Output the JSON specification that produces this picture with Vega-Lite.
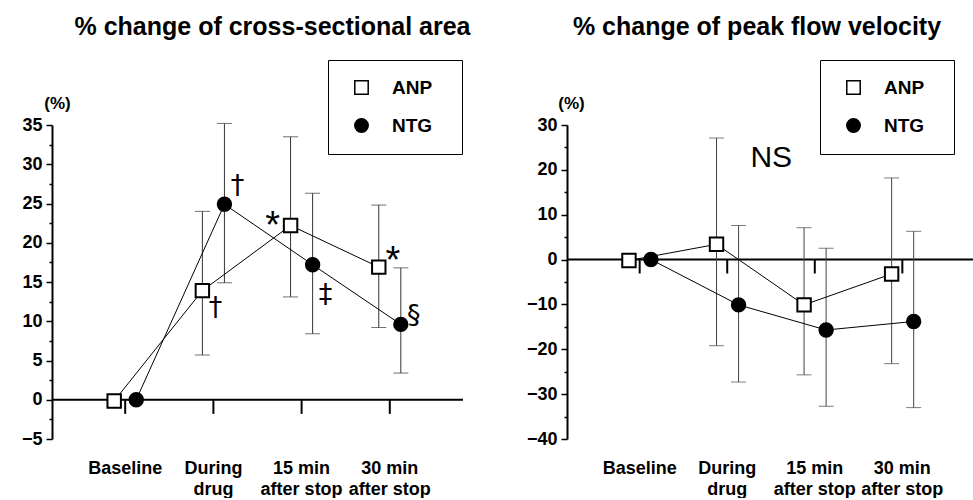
{
  "$schema": "https://vega.github.io/schema/vega-lite/v6.json",
  "padding": {"left": 21, "top": 14, "right": 0, "bottom": 0},
  "spacing": 55,
  "background": "white",
  "resolve": {"scale": {"shape": "independent", "fill": "independent"}, "legend": {"shape": "independent", "fill": "independent"}},
  "config": {
    "view": {"stroke": null},
    "axis": {"grid": false, "labelOverlap": false},
    "font": "Liberation Sans"
  },
  "datasets": {
    "cats": [
      {"time": "Baseline"}, {"time": "During drug"}, {"time": "15 min after stop"}, {"time": "30 min after stop"}
    ],
    "csa": [
      {"time": "Baseline", "series": "ANP", "mean": -0.15, "lo": null, "hi": null},
      {"time": "During drug", "series": "ANP", "mean": 13.9, "lo": 5.7, "hi": 24.0},
      {"time": "15 min after stop", "series": "ANP", "mean": 22.2, "lo": 13.1, "hi": 33.5},
      {"time": "30 min after stop", "series": "ANP", "mean": 16.9, "lo": 9.2, "hi": 24.8},
      {"time": "Baseline", "series": "NTG", "mean": 0, "lo": null, "hi": null},
      {"time": "During drug", "series": "NTG", "mean": 24.9, "lo": 14.9, "hi": 35.2},
      {"time": "15 min after stop", "series": "NTG", "mean": 17.2, "lo": 8.4, "hi": 26.3},
      {"time": "30 min after stop", "series": "NTG", "mean": 9.6, "lo": 3.4, "hi": 16.8}
    ],
    "pfv": [
      {"time": "Baseline", "series": "ANP", "mean": -0.2, "lo": null, "hi": null},
      {"time": "During drug", "series": "ANP", "mean": 3.4, "lo": -19.2, "hi": 27.1},
      {"time": "15 min after stop", "series": "ANP", "mean": -10.1, "lo": -25.7, "hi": 7.1},
      {"time": "30 min after stop", "series": "ANP", "mean": -3.2, "lo": -23.2, "hi": 18.2},
      {"time": "Baseline", "series": "NTG", "mean": 0, "lo": null, "hi": null},
      {"time": "During drug", "series": "NTG", "mean": -10.1, "lo": -27.3, "hi": 7.6},
      {"time": "15 min after stop", "series": "NTG", "mean": -15.7, "lo": -32.7, "hi": 2.5},
      {"time": "30 min after stop", "series": "NTG", "mean": -13.8, "lo": -33.0, "hi": 6.3}
    ],
    "annR": [
      {"time": "During drug", "series": "NTG", "y": 27.2, "label": "†"},
      {"time": "During drug", "series": "ANP", "y": 11.7, "label": "†"},
      {"time": "15 min after stop", "series": "NTG", "y": 13.4, "label": "‡"},
      {"time": "30 min after stop", "series": "NTG", "y": 10.7, "label": "§"}
    ],
    "starR": [
      {"time": "30 min after stop", "series": "ANP", "y": 17.6, "label": "*"}
    ],
    "starL": [
      {"time": "15 min after stop", "series": "ANP", "y": 22.0, "label": "*"}
    ],
    "ns": [
      {"time": "During drug", "y": 22.6, "label": "NS"}
    ]
  },
  "hconcat": [
    {
      "width": 411,
      "height": 314,
      "title": {"text": "% change of cross-sectional area", "font": "Liberation Sans", "fontSize": 25, "fontWeight": "bold", "color": "black", "anchor": "middle", "frame": "group", "dx": 15, "offset": 20},
      "layer": [
        {
          "data": {"values": [{}]},
          "mark": {"type": "rule", "strokeWidth": 2, "color": "black"},
          "encoding": {"y": {"datum": 0, "type": "quantitative", "scale": {"domain": [-5, 35], "nice": false, "zero": false},
            "axis": {"values": [-5, -2.5, 0, 2.5, 5, 7.5, 10, 12.5, 15, 17.5, 20, 22.5, 25, 27.5, 30, 32.5, 35], "tickCount": 100, "format": "d",
              "labelExpr": "datum.value % 5 === 0 ? datum.label : ''", "labelOverlap": false,
              "tickSize": {"condition": {"test": "datum.value % 5 === 0", "value": 6}, "value": 3},
              "tickColor": "black", "tickWidth": 1.5, "domainColor": "black", "domainWidth": 2,
              "labelFont": "Liberation Sans", "labelFontWeight": "bold", "labelFontSize": 18, "labelColor": "black", "labelPadding": 4,
              "title": "(%)", "titleAngle": 0, "titleX": 5, "titleY": -22, "titleAlign": "center", "titleBaseline": "middle",
              "titleFont": "Liberation Sans", "titleFontWeight": "bold", "titleFontSize": 17, "titleColor": "black"}}}
        },
        {
          "data": {"name": "cats"},
          "mark": {"type": "rule", "strokeWidth": 2, "color": "black"},
          "encoding": {
            "x": {"field": "time", "type": "nominal", "scale": {"type": "band", "domain": ["Baseline", "During drug", "15 min after stop", "30 min after stop"], "paddingInner": 0, "paddingOuter": 0.33},
              "axis": {"domain": false, "ticks": false, "title": null, "labelAngle": 0, "labelFont": "Liberation Sans", "labelFontWeight": "bold", "labelFontSize": 18, "labelColor": "black", "labelPadding": 20, "labelLineHeight": 21,
                "labelExpr": "datum.value == 'During drug' ? ['During', 'drug'] : datum.value == '15 min after stop' ? ['15 min', 'after stop'] : datum.value == '30 min after stop' ? ['30 min', 'after stop'] : datum.value"}},
            "y": {"datum": 0, "type": "quantitative"},
            "y2": {"datum": -1.8}
          }
        },
        {
          "data": {"name": "csa"},
          "transform": [{"filter": "datum.lo != null"}],
          "mark": {"type": "rule", "strokeWidth": 1, "color": "#333333"},
          "encoding": {
            "x": {"field": "time", "type": "nominal"},
            "xOffset": {"field": "series", "type": "nominal", "scale": {"domain": ["ANP", "NTG"], "paddingInner": 0, "paddingOuter": 1.3}},
            "y": {"field": "lo", "type": "quantitative"},
            "y2": {"field": "hi"}
          }
        },
        {
          "data": {"name": "csa"},
          "transform": [{"filter": "datum.lo != null"}],
          "mark": {"type": "tick", "thickness": 1, "size": 15, "color": "#333333"},
          "encoding": {
            "x": {"field": "time", "type": "nominal"},
            "xOffset": {"field": "series", "type": "nominal"},
            "y": {"field": "lo", "type": "quantitative"}
          }
        },
        {
          "data": {"name": "csa"},
          "transform": [{"filter": "datum.lo != null"}],
          "mark": {"type": "tick", "thickness": 1, "size": 15, "color": "#333333"},
          "encoding": {
            "x": {"field": "time", "type": "nominal"},
            "xOffset": {"field": "series", "type": "nominal"},
            "y": {"field": "hi", "type": "quantitative"}
          }
        },
        {
          "data": {"name": "csa"},
          "mark": {"type": "line", "strokeWidth": 1, "color": "black"},
          "encoding": {
            "x": {"field": "time", "type": "nominal"},
            "xOffset": {"field": "series", "type": "nominal"},
            "y": {"field": "mean", "type": "quantitative"},
            "detail": {"field": "series"},
            "order": {"value": null}
          }
        },
        {
          "data": {"name": "csa"},
          "mark": {"type": "point", "filled": true, "stroke": "black", "strokeWidth": 2, "size": 180, "opacity": 1},
          "encoding": {
            "x": {"field": "time", "type": "nominal"},
            "xOffset": {"field": "series", "type": "nominal"},
            "y": {"field": "mean", "type": "quantitative"},
            "shape": {"field": "series", "type": "nominal", "scale": {"domain": ["ANP", "NTG"], "range": ["square", "circle"]},
              "legend": {"orient": "none", "legendX": 276, "legendY": -65, "title": " ", "titleOrient": "right", "titlePadding": 12, "padding": 18, "strokeColor": "black", "fillColor": "white",
                "labelFont": "Liberation Sans", "labelFontWeight": "bold", "labelFontSize": 19, "labelColor": "black", "labelOffset": 21, "symbolOffset": 6,
                "symbolSize": 180, "rowPadding": 17,
                "encode": {"legend": {"update": {"strokeWidth": {"value": 2}}}, "symbols": {"update": {"stroke": {"value": "black"}, "strokeWidth": {"value": 2}}}}}},
            "fill": {"field": "series", "type": "nominal", "scale": {"domain": ["ANP", "NTG"], "range": ["white", "black"]},
              "legend": {"orient": "none", "legendX": 276, "legendY": -65, "title": " ", "titleOrient": "right", "titlePadding": 12, "padding": 18, "strokeColor": "black", "fillColor": "white",
                "labelFont": "Liberation Sans", "labelFontWeight": "bold", "labelFontSize": 19, "labelColor": "black", "labelOffset": 21, "symbolOffset": 6,
                "symbolSize": 180, "rowPadding": 17,
                "encode": {"legend": {"update": {"strokeWidth": {"value": 2}}}, "symbols": {"update": {"stroke": {"value": "black"}, "strokeWidth": {"value": 2}}}}}}
          }
        },
        {
          "data": {"name": "annR"},
          "mark": {"type": "text", "font": "DejaVu Sans", "fontSize": 27, "color": "black", "align": "center", "baseline": "middle", "dx": 13},
          "encoding": {
            "x": {"field": "time", "type": "nominal"},
            "xOffset": {"field": "series", "type": "nominal"},
            "y": {"field": "y", "type": "quantitative"},
            "text": {"field": "label"}
          }
        },
        {
          "data": {"name": "starR"},
          "mark": {"type": "text", "font": "Liberation Sans", "fontSize": 38, "color": "black", "align": "center", "baseline": "middle", "dx": 14},
          "encoding": {
            "x": {"field": "time", "type": "nominal"},
            "xOffset": {"field": "series", "type": "nominal"},
            "y": {"field": "y", "type": "quantitative"},
            "text": {"field": "label"}
          }
        },
        {
          "data": {"name": "starL"},
          "mark": {"type": "text", "font": "Liberation Sans", "fontSize": 38, "color": "black", "align": "center", "baseline": "middle", "dx": -18},
          "encoding": {
            "x": {"field": "time", "type": "nominal"},
            "xOffset": {"field": "series", "type": "nominal"},
            "y": {"field": "y", "type": "quantitative"},
            "text": {"field": "label"}
          }
        }
      ]
    },
    {
      "width": 408,
      "height": 314,
      "title": {"text": "% change of peak flow velocity", "font": "Liberation Sans", "fontSize": 25, "fontWeight": "bold", "color": "black", "anchor": "middle", "frame": "group", "dx": -14, "offset": 20},
      "layer": [
        {
          "data": {"values": [{}]},
          "mark": {"type": "rule", "strokeWidth": 2, "color": "black"},
          "encoding": {"y": {"datum": 0, "type": "quantitative", "scale": {"domain": [-40, 30], "nice": false, "zero": false},
            "axis": {"values": [-40, -35, -30, -25, -20, -15, -10, -5, 0, 5, 10, 15, 20, 25, 30], "tickCount": 100, "format": "d",
              "labelExpr": "datum.value % 10 === 0 ? datum.label : ''", "labelOverlap": false,
              "tickSize": {"condition": {"test": "datum.value % 10 === 0", "value": 6}, "value": 3},
              "tickColor": "black", "tickWidth": 1.5, "domainColor": "black", "domainWidth": 2,
              "labelFont": "Liberation Sans", "labelFontWeight": "bold", "labelFontSize": 18, "labelColor": "black", "labelPadding": 4,
              "title": "(%)", "titleAngle": 0, "titleX": 4, "titleY": -22, "titleAlign": "center", "titleBaseline": "middle",
              "titleFont": "Liberation Sans", "titleFontWeight": "bold", "titleFontSize": 17, "titleColor": "black"}}}
        },
        {
          "data": {"name": "cats"},
          "mark": {"type": "rule", "strokeWidth": 2, "color": "black"},
          "encoding": {
            "x": {"field": "time", "type": "nominal", "scale": {"type": "band", "domain": ["Baseline", "During drug", "15 min after stop", "30 min after stop"], "paddingInner": 0, "paddingOuter": 0.33},
              "axis": {"domain": false, "ticks": false, "title": null, "labelAngle": 0, "labelFont": "Liberation Sans", "labelFontWeight": "bold", "labelFontSize": 18, "labelColor": "black", "labelPadding": 20, "labelLineHeight": 21,
                "labelExpr": "datum.value == 'During drug' ? ['During', 'drug'] : datum.value == '15 min after stop' ? ['15 min', 'after stop'] : datum.value == '30 min after stop' ? ['30 min', 'after stop'] : datum.value"}},
            "y": {"datum": 0, "type": "quantitative"},
            "y2": {"datum": -3.1}
          }
        },
        {
          "data": {"name": "pfv"},
          "transform": [{"filter": "datum.lo != null"}],
          "mark": {"type": "rule", "strokeWidth": 1, "color": "#444444"},
          "encoding": {
            "x": {"field": "time", "type": "nominal"},
            "xOffset": {"field": "series", "type": "nominal", "scale": {"domain": ["ANP", "NTG"], "paddingInner": 0, "paddingOuter": 1.3}},
            "y": {"field": "lo", "type": "quantitative"},
            "y2": {"field": "hi"}
          }
        },
        {
          "data": {"name": "pfv"},
          "transform": [{"filter": "datum.lo != null"}],
          "mark": {"type": "tick", "thickness": 1, "size": 15, "color": "#444444"},
          "encoding": {
            "x": {"field": "time", "type": "nominal"},
            "xOffset": {"field": "series", "type": "nominal"},
            "y": {"field": "lo", "type": "quantitative"}
          }
        },
        {
          "data": {"name": "pfv"},
          "transform": [{"filter": "datum.lo != null"}],
          "mark": {"type": "tick", "thickness": 1, "size": 15, "color": "#444444"},
          "encoding": {
            "x": {"field": "time", "type": "nominal"},
            "xOffset": {"field": "series", "type": "nominal"},
            "y": {"field": "hi", "type": "quantitative"}
          }
        },
        {
          "data": {"name": "pfv"},
          "mark": {"type": "line", "strokeWidth": 1, "color": "black"},
          "encoding": {
            "x": {"field": "time", "type": "nominal"},
            "xOffset": {"field": "series", "type": "nominal"},
            "y": {"field": "mean", "type": "quantitative"},
            "detail": {"field": "series"},
            "order": {"value": null}
          }
        },
        {
          "data": {"name": "pfv"},
          "mark": {"type": "point", "filled": true, "stroke": "black", "strokeWidth": 2, "size": 180, "opacity": 1},
          "encoding": {
            "x": {"field": "time", "type": "nominal"},
            "xOffset": {"field": "series", "type": "nominal"},
            "y": {"field": "mean", "type": "quantitative"},
            "shape": {"field": "series", "type": "nominal", "scale": {"domain": ["ANP", "NTG"], "range": ["square", "circle"]},
              "legend": {"orient": "none", "legendX": 253, "legendY": -65, "title": " ", "titleOrient": "right", "titlePadding": 12, "padding": 18, "strokeColor": "black", "fillColor": "white",
                "labelFont": "Liberation Sans", "labelFontWeight": "bold", "labelFontSize": 19, "labelColor": "black", "labelOffset": 21, "symbolOffset": 6,
                "symbolSize": 180, "rowPadding": 17,
                "encode": {"legend": {"update": {"strokeWidth": {"value": 2}}}, "symbols": {"update": {"stroke": {"value": "black"}, "strokeWidth": {"value": 2}}}}}},
            "fill": {"field": "series", "type": "nominal", "scale": {"domain": ["ANP", "NTG"], "range": ["white", "black"]},
              "legend": {"orient": "none", "legendX": 253, "legendY": -65, "title": " ", "titleOrient": "right", "titlePadding": 12, "padding": 18, "strokeColor": "black", "fillColor": "white",
                "labelFont": "Liberation Sans", "labelFontWeight": "bold", "labelFontSize": 19, "labelColor": "black", "labelOffset": 21, "symbolOffset": 6,
                "symbolSize": 180, "rowPadding": 17,
                "encode": {"legend": {"update": {"strokeWidth": {"value": 2}}}, "symbols": {"update": {"stroke": {"value": "black"}, "strokeWidth": {"value": 2}}}}}}
          }
        },
        {
          "data": {"name": "ns"},
          "mark": {"type": "text", "font": "Liberation Sans", "fontSize": 30, "color": "black", "align": "center", "baseline": "middle", "dx": 44},
          "encoding": {
            "x": {"field": "time", "type": "nominal"},
            "y": {"field": "y", "type": "quantitative"},
            "text": {"field": "label"}
          }
        }
      ]
    }
  ]
}
